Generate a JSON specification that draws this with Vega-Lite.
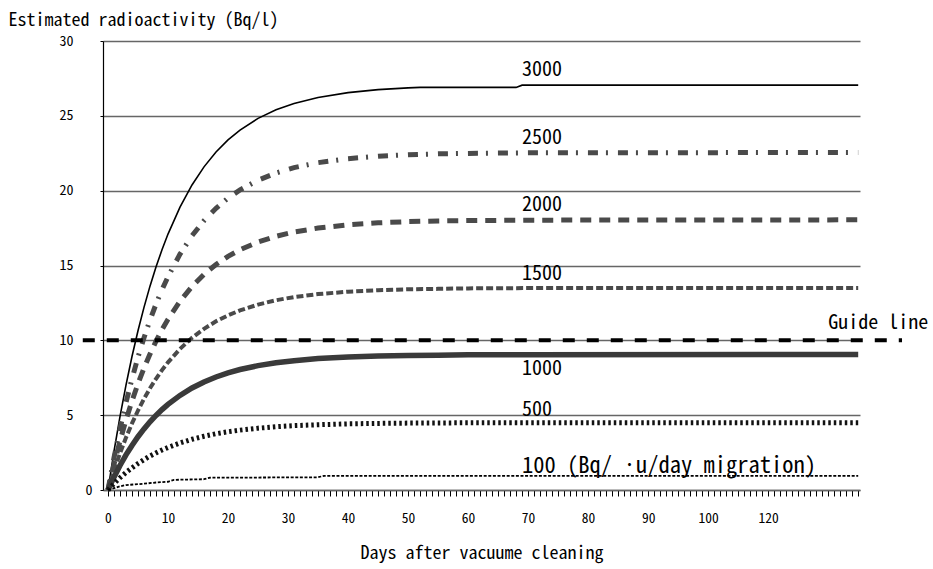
{
  "$schema": "https://vega.github.io/schema/vega-lite/v6.json",
  "width": 757,
  "height": 449,
  "autosize": {"type": "none"},
  "padding": {"left": 103, "top": 41, "right": 73, "bottom": 79},
  "background": "white",
  "config": {"view": {"stroke": null}},
  "datasets": {
    "curves": [
      {"series":"3000","day":0,"value":0},{"series":"3000","day":1,"value":2.58},{"series":"3000","day":2,"value":4.9},{"series":"3000","day":3,"value":7.01},{"series":"3000","day":4,"value":8.92},{"series":"3000","day":5,"value":10.64},{"series":"3000","day":6,"value":12.2},{"series":"3000","day":7,"value":13.62},{"series":"3000","day":8,"value":14.9},{"series":"3000","day":9,"value":16.05},{"series":"3000","day":10,"value":17.1},{"series":"3000","day":12,"value":18.9},{"series":"3000","day":14,"value":20.38},{"series":"3000","day":16,"value":21.59},{"series":"3000","day":18,"value":22.58},{"series":"3000","day":20,"value":23.39},{"series":"3000","day":22,"value":24.05},{"series":"3000","day":25,"value":24.83},{"series":"3000","day":28,"value":25.41},{"series":"3000","day":31,"value":25.83},{"series":"3000","day":35,"value":26.23},{"series":"3000","day":40,"value":26.55},{"series":"3000","day":45,"value":26.75},{"series":"3000","day":50,"value":26.87},{"series":"3000","day":52,"value":26.9},{"series":"3000","day":68,"value":26.9},{"series":"3000","day":69,"value":27.05},{"series":"3000","day":125,"value":27.05},
      {"series":"2500","day":0,"value":0},{"series":"2500","day":1,"value":2.15},{"series":"2500","day":2,"value":4.09},{"series":"2500","day":3,"value":5.84},{"series":"2500","day":4,"value":7.43},{"series":"2500","day":5,"value":8.87},{"series":"2500","day":6,"value":10.17},{"series":"2500","day":7,"value":11.35},{"series":"2500","day":8,"value":12.42},{"series":"2500","day":9,"value":13.38},{"series":"2500","day":10,"value":14.25},{"series":"2500","day":12,"value":15.76},{"series":"2500","day":14,"value":16.99},{"series":"2500","day":16,"value":18.0},{"series":"2500","day":18,"value":18.82},{"series":"2500","day":20,"value":19.5},{"series":"2500","day":22,"value":20.05},{"series":"2500","day":25,"value":20.7},{"series":"2500","day":28,"value":21.18},{"series":"2500","day":31,"value":21.54},{"series":"2500","day":35,"value":21.87},{"series":"2500","day":40,"value":22.14},{"series":"2500","day":45,"value":22.3},{"series":"2500","day":50,"value":22.4},{"series":"2500","day":55,"value":22.46},{"series":"2500","day":60,"value":22.49},{"series":"2500","day":70,"value":22.53},{"series":"2500","day":125,"value":22.55},
      {"series":"2000","day":0,"value":0},{"series":"2000","day":1,"value":1.72},{"series":"2000","day":2,"value":3.27},{"series":"2000","day":3,"value":4.68},{"series":"2000","day":4,"value":5.95},{"series":"2000","day":5,"value":7.1},{"series":"2000","day":6,"value":8.14},{"series":"2000","day":7,"value":9.08},{"series":"2000","day":8,"value":9.94},{"series":"2000","day":9,"value":10.71},{"series":"2000","day":10,"value":11.41},{"series":"2000","day":12,"value":12.61},{"series":"2000","day":14,"value":13.6},{"series":"2000","day":16,"value":14.41},{"series":"2000","day":18,"value":15.07},{"series":"2000","day":20,"value":15.61},{"series":"2000","day":22,"value":16.05},{"series":"2000","day":25,"value":16.57},{"series":"2000","day":28,"value":16.95},{"series":"2000","day":31,"value":17.24},{"series":"2000","day":35,"value":17.5},{"series":"2000","day":40,"value":17.72},{"series":"2000","day":45,"value":17.85},{"series":"2000","day":50,"value":17.93},{"series":"2000","day":55,"value":17.98},{"series":"2000","day":60,"value":18.0},{"series":"2000","day":70,"value":18.03},{"series":"2000","day":125,"value":18.05},
      {"series":"1500","day":0,"value":0},{"series":"1500","day":1,"value":1.29},{"series":"1500","day":2,"value":2.45},{"series":"1500","day":3,"value":3.5},{"series":"1500","day":4,"value":4.45},{"series":"1500","day":5,"value":5.31},{"series":"1500","day":6,"value":6.09},{"series":"1500","day":7,"value":6.8},{"series":"1500","day":8,"value":7.43},{"series":"1500","day":9,"value":8.01},{"series":"1500","day":10,"value":8.53},{"series":"1500","day":12,"value":9.43},{"series":"1500","day":14,"value":10.17},{"series":"1500","day":16,"value":10.77},{"series":"1500","day":18,"value":11.27},{"series":"1500","day":20,"value":11.67},{"series":"1500","day":22,"value":12.0},{"series":"1500","day":25,"value":12.39},{"series":"1500","day":28,"value":12.68},{"series":"1500","day":31,"value":12.89},{"series":"1500","day":35,"value":13.09},{"series":"1500","day":40,"value":13.25},{"series":"1500","day":45,"value":13.35},{"series":"1500","day":50,"value":13.41},{"series":"1500","day":55,"value":13.44},{"series":"1500","day":60,"value":13.47},{"series":"1500","day":70,"value":13.49},{"series":"1500","day":125,"value":13.5},
      {"series":"1000","day":0,"value":0},{"series":"1000","day":1,"value":0.86},{"series":"1000","day":2,"value":1.64},{"series":"1000","day":3,"value":2.35},{"series":"1000","day":4,"value":2.98},{"series":"1000","day":5,"value":3.56},{"series":"1000","day":6,"value":4.08},{"series":"1000","day":7,"value":4.56},{"series":"1000","day":8,"value":4.98},{"series":"1000","day":9,"value":5.37},{"series":"1000","day":10,"value":5.72},{"series":"1000","day":12,"value":6.32},{"series":"1000","day":14,"value":6.82},{"series":"1000","day":16,"value":7.22},{"series":"1000","day":18,"value":7.55},{"series":"1000","day":20,"value":7.83},{"series":"1000","day":22,"value":8.05},{"series":"1000","day":25,"value":8.31},{"series":"1000","day":28,"value":8.5},{"series":"1000","day":31,"value":8.64},{"series":"1000","day":35,"value":8.78},{"series":"1000","day":40,"value":8.88},{"series":"1000","day":45,"value":8.95},{"series":"1000","day":50,"value":8.99},{"series":"1000","day":55,"value":9.01},{"series":"1000","day":60,"value":9.03},{"series":"1000","day":70,"value":9.04},{"series":"1000","day":125,"value":9.05},
      {"series":"500","day":0,"value":0},{"series":"500","day":1,"value":0.43},{"series":"500","day":2,"value":0.82},{"series":"500","day":3,"value":1.17},{"series":"500","day":4,"value":1.48},{"series":"500","day":5,"value":1.77},{"series":"500","day":6,"value":2.03},{"series":"500","day":7,"value":2.27},{"series":"500","day":8,"value":2.48},{"series":"500","day":9,"value":2.67},{"series":"500","day":10,"value":2.84},{"series":"500","day":12,"value":3.14},{"series":"500","day":14,"value":3.39},{"series":"500","day":16,"value":3.59},{"series":"500","day":18,"value":3.76},{"series":"500","day":20,"value":3.89},{"series":"500","day":22,"value":4.0},{"series":"500","day":25,"value":4.13},{"series":"500","day":28,"value":4.23},{"series":"500","day":31,"value":4.3},{"series":"500","day":35,"value":4.36},{"series":"500","day":40,"value":4.42},{"series":"500","day":45,"value":4.45},{"series":"500","day":50,"value":4.47},{"series":"500","day":55,"value":4.48},{"series":"500","day":60,"value":4.49},{"series":"500","day":70,"value":4.5},{"series":"500","day":125,"value":4.5},
      {"series":"100","day":0,"value":0},{"series":"100","day":1,"value":0.12},{"series":"100","day":2,"value":0.25},{"series":"100","day":3,"value":0.33},{"series":"100","day":6,"value":0.42},{"series":"100","day":8,"value":0.5},{"series":"100","day":10,"value":0.55},{"series":"100","day":11,"value":0.68},{"series":"100","day":16,"value":0.72},{"series":"100","day":17,"value":0.82},{"series":"100","day":35,"value":0.85},{"series":"100","day":36,"value":0.95},{"series":"100","day":125,"value":0.95}
    ],
    "labels": [
      {"label":"3000","day":69,"value":28.06},
      {"label":"2500","day":69,"value":23.55},
      {"label":"2000","day":69,"value":19.04},
      {"label":"1500","day":69,"value":14.43},
      {"label":"1000","day":69,"value":8.08},
      {"label":"500","day":69,"value":5.34}
    ],
    "unitLabel": [
      {"label":"100 (Bq/ ·u/day migration)","day":69,"value":1.6}
    ],
    "guide": [
      {"label":"Guide line","day":-4.2,"day2":132.3,"value":10}
    ],
    "guideLabel": [
      {"label":"Guide line","day":120,"value":11.16}
    ]
  },
  "encoding": {
    "x": {
      "field": "day", "type": "quantitative",
      "scale": {"domain": [-0.83, 125.3], "nice": false, "zero": false},
      "axis": {
        "title": "Days after vacuume cleaning",
        "titleFont": "Noto Sans Mono CJK JP, DejaVu Sans Mono", "titleFontSize": 18, "titleFontWeight": "normal", "titleColor": "black",
        "titleBaseline": "alphabetic", "titleY": 68,
        "values": [0,1,2,3,4,5,6,7,8,9,10,11,12,13,14,15,16,17,18,19,20,21,22,23,24,25,26,27,28,29,30,31,32,33,34,35,36,37,38,39,40,41,42,43,44,45,46,47,48,49,50,51,52,53,54,55,56,57,58,59,60,61,62,63,64,65,66,67,68,69,70,71,72,73,74,75,76,77,78,79,80,81,82,83,84,85,86,87,88,89,90,91,92,93,94,95,96,97,98,99,100,101,102,103,104,105,106,107,108,109,110,111,112,113,114,115,116,117,118,119,120,121,122,123,124,125],
        "labelExpr": "datum.value % 10 === 0 && datum.value <= 100 ? format(datum.value, 'd') : (datum.value === 110 ? '120' : '')",
        "labelOverlap": false, "labelBound": false, "labelFlush": false,
        "labelFont": "Noto Sans Mono CJK JP, DejaVu Sans Mono", "labelFontSize": 13.5, "labelColor": "black",
        "labelBaseline": "alphabetic", "labelPadding": 26, "labelDx": 5,
        "tickSize": 6, "tickColor": "black", "tickWidth": 1,
        "domainColor": "#666666", "domainWidth": 1.6,
        "grid": false
      }
    },
    "y": {
      "field": "value", "type": "quantitative",
      "scale": {"domain": [0, 30], "nice": false},
      "axis": {
        "title": "Estimated radioactivity (Bq/l)",
        "titleFont": "Noto Sans Mono CJK JP, DejaVu Sans Mono", "titleFontSize": 18, "titleFontWeight": "normal", "titleColor": "black",
        "titleAngle": 0, "titleAlign": "left", "titleBaseline": "alphabetic", "titleX": -95, "titleY": -16,
        "values": [0,5,10,15,20,25,30],
        "labelFont": "Noto Sans Mono CJK JP, DejaVu Sans Mono", "labelFontSize": 14, "labelColor": "black",
        "labelPadding": {"condition": {"test": "datum.value === 0", "value": 8}, "value": 27},
        "labelDy": 3, "labelOverlap": false,
        "tickSize": 3, "tickColor": "black",
        "domainColor": "black", "domainWidth": 1.2,
        "grid": true, "gridColor": "#666666", "gridWidth": 1.6
      }
    }
  },
  "layer": [
    {
      "data": {"name": "curves"},
      "transform": [{"filter": {"field": "series", "equal": "3000"}}],
      "mark": {"type": "line", "color": "black", "strokeWidth": 1.6}
    },
    {
      "data": {"name": "curves"},
      "transform": [{"filter": {"field": "series", "equal": "2500"}}],
      "mark": {"type": "line", "color": "#4a4a4a", "strokeWidth": 5, "strokeDash": [10, 8, 2, 10], "strokeCap": "butt"}
    },
    {
      "data": {"name": "curves"},
      "transform": [{"filter": {"field": "series", "equal": "2000"}}],
      "mark": {"type": "line", "color": "#4a4a4a", "strokeWidth": 5, "strokeDash": [11, 8], "strokeCap": "butt"}
    },
    {
      "data": {"name": "curves"},
      "transform": [{"filter": {"field": "series", "equal": "1500"}}],
      "mark": {"type": "line", "color": "#4a4a4a", "strokeWidth": 4, "strokeDash": [7, 3], "strokeCap": "butt"}
    },
    {
      "data": {"name": "curves"},
      "transform": [{"filter": {"field": "series", "equal": "1000"}}],
      "mark": {"type": "line", "color": "#3a3a3a", "strokeWidth": 5.5}
    },
    {
      "data": {"name": "curves"},
      "transform": [{"filter": {"field": "series", "equal": "500"}}],
      "mark": {"type": "line", "color": "#111111", "strokeWidth": 5, "strokeDash": [2.5, 3], "strokeCap": "butt"}
    },
    {
      "data": {"name": "curves"},
      "transform": [{"filter": {"field": "series", "equal": "100"}}],
      "mark": {"type": "line", "color": "black", "strokeWidth": 1.8, "strokeDash": [3, 1.6], "strokeCap": "butt"}
    },
    {
      "data": {"name": "guide"},
      "mark": {"type": "rule", "color": "black", "strokeWidth": 4, "strokeDash": [12, 12], "clip": false},
      "encoding": {
        "x2": {"field": "day2"}
      }
    },
    {
      "data": {"name": "guideLabel"},
      "mark": {"type": "text", "align": "left", "baseline": "middle", "font": "Noto Sans Mono CJK JP, DejaVu Sans Mono", "fontSize": 20, "color": "black", "clip": false},
      "encoding": {"text": {"field": "label"}}
    },
    {
      "data": {"name": "labels"},
      "mark": {"type": "text", "align": "left", "baseline": "middle", "font": "Noto Sans Mono CJK JP, DejaVu Sans Mono", "fontSize": 20, "color": "black"},
      "encoding": {"text": {"field": "label"}}
    },
    {
      "data": {"name": "unitLabel"},
      "mark": {"type": "text", "align": "left", "baseline": "middle", "font": "Noto Sans Mono CJK JP, DejaVu Sans Mono", "fontSize": 22.5, "color": "black"},
      "encoding": {"text": {"field": "label"}}
    }
  ]
}
